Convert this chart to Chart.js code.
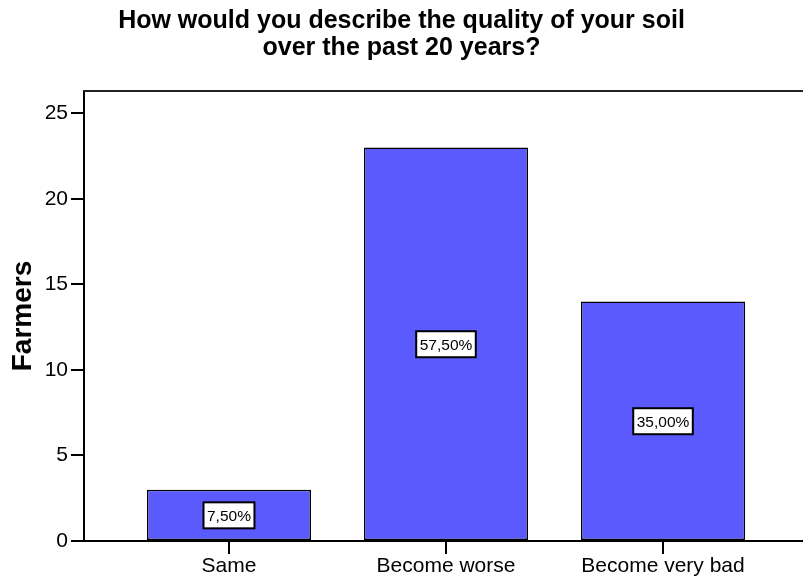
<!DOCTYPE html>
<html>
<head>
<meta charset="utf-8">
<script src="https://cdn.jsdelivr.net/npm/chart.js@4.4.0/dist/chart.umd.min.js"></script>
<style>
  body { margin: 0; background: #fff; }
  canvas { display: block; }
</style>
</head>
<body>
<canvas id="myChart" width="803" height="583"></canvas>
<script>
var categories = ["Same", "Become worse", "Become very bad"];
var farmers = [3, 23, 14];
var percentLabels = ["7,50%", "57,50%", "35,00%"];
var yTicks = [0, 5, 10, 15, 20, 25];

var FONT = "'Liberation Sans', Arial, sans-serif";

// boxed percentage in the middle of each bar
var boxLabels = {
  id: "boxLabels",
  afterDatasetsDraw: function (chart) {
    var ctx = chart.ctx;
    var meta = chart.getDatasetMeta(0);
    var yScale = chart.scales.y;
    ctx.save();
    ctx.font = "15.5px " + FONT;
    ctx.textAlign = "center";
    ctx.textBaseline = "middle";
    meta.data.forEach(function (bar, i) {
      var cy = yScale.getPixelForValue(farmers[i] / 2);
      var w = ctx.measureText(percentLabels[i]).width + 7;
      var h = 26;
      ctx.fillStyle = "#fff";
      ctx.fillRect(bar.x - w / 2, cy - h / 2, w, h);
      ctx.strokeStyle = "#000";
      ctx.lineWidth = 2;
      ctx.strokeRect(bar.x - w / 2, cy - h / 2, w, h);
      ctx.fillStyle = "#000";
      ctx.fillText(percentLabels[i], bar.x, cy + 1);
    });
    ctx.restore();
  },
};

// top frame line running to the right edge
var topLine = {
  id: "topLine",
  afterDraw: function (chart) {
    var ctx = chart.ctx;
    var a = chart.chartArea;
    ctx.save();
    ctx.strokeStyle = "#222";
    ctx.lineWidth = 2;
    ctx.beginPath();
    ctx.moveTo(a.left - 1, a.top);
    ctx.lineTo(chart.width, a.top);
    ctx.stroke();
    ctx.restore();
  },
};

var ctx = document.getElementById("myChart").getContext("2d");
var newChart = new Chart(ctx, {
  type: "bar",
  plugins: [boxLabels, topLine],
  data: {
    datasets: [
      {
        data: farmers.map(function (v, i) {
          return { x: i, y: v };
        }),
        backgroundColor: "#5a5aff",
        borderColor: "#000",
        borderWidth: 1.5,
        borderSkipped: false,
        categoryPercentage: 1,
        barPercentage: 0.756,
      },
    ],
  },
  options: {
    responsive: false,
    animation: false,
    layout: { padding: { left: 0, right: 0, top: 0, bottom: 0 } },
    plugins: {
      legend: { display: false },
      tooltip: { enabled: false },
      title: {
        display: true,
        text: [
          "How would you describe the quality of your soil",
          "over the past 20 years?",
        ],
        color: "#000",
        font: { family: FONT, size: 25, weight: "bold", lineHeight: 1.06 },
        padding: { top: 8, bottom: 30 },
      },
    },
    scales: {
      x: {
        type: "linear",
        offset: false,
        min: -0.668,
        max: 2.645,
        afterBuildTicks: function (scale) {
          scale.ticks = categories.map(function (c, i) {
            return { value: i };
          });
        },
        afterFit: function (scale) {
          scale.height = 42;
        },
        ticks: {
          color: "#000",
          font: { family: FONT, size: 21 },
          padding: 0,
          maxRotation: 0,
          autoSkip: false,
          callback: function (value) {
            return categories[value];
          },
        },
        grid: {
          offset: false,
          drawOnChartArea: false,
          drawTicks: true,
          tickLength: 13,
          color: "#000",
          lineWidth: 2,
        },
        border: { color: "#000", width: 2 },
      },
      y: {
        min: 0,
        max: 26.3,
        afterBuildTicks: function (scale) {
          scale.ticks = yTicks.map(function (v) {
            return { value: v };
          });
        },
        afterFit: function (scale) {
          scale.width = 84;
        },
        ticks: {
          color: "#000",
          font: { family: FONT, size: 21 },
          padding: 3,
        },
        grid: {
          drawOnChartArea: false,
          drawTicks: true,
          tickLength: 13,
          color: "#000",
          lineWidth: 2,
        },
        border: { color: "#000", width: 2 },
        title: {
          display: true,
          text: "Farmers",
          color: "#000",
          font: { family: FONT, size: 28, weight: "bold" },
          padding: { top: 6, bottom: 0 },
        },
      },
    },
  },
});
</script>
</body>
</html>
